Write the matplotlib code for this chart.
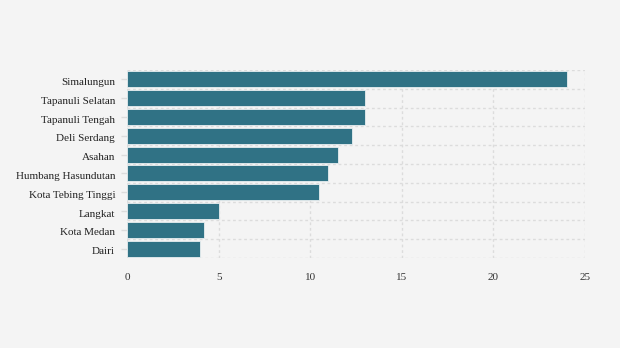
import numpy as np
import matplotlib.pyplot as plt
import matplotlib.transforms as mtransforms
from matplotlib.ticker import FixedLocator

REGIONS = [
    "Simalungun", "Tapanuli Selatan", "Tapanuli Tengah", "Deli Serdang",
    "Asahan", "Humbang Hasundutan", "Kota Tebing Tinggi", "Langkat",
    "Kota Medan", "Dairi",
]
VALUES = [24.0, 13.0, 13.0, 12.3, 11.5, 11.0, 10.5, 5.0, 4.2, 4.0]
X_TICKS = [0, 5, 10, 15, 20, 25]

BG = "#f4f4f4"
BAR = "#307285"
GRID = "#dcdcdc"

plt.rcParams.update({
    "font.family": "Liberation Serif",
    "font.size": 8,
})

fig = plt.figure(figsize=(6.2, 3.48), dpi=100, facecolor=BG)
ax = fig.add_axes([0.2048, 0.2586, 0.7387, 0.5403], facecolor=BG)

y = np.arange(len(REGIONS))
ax.barh(y, VALUES, height=0.86, color=BAR, edgecolor="#e8eef0",
        linewidth=0.6, zorder=2)

ax.set_xlim(0, 25)
ax.set_ylim(len(REGIONS) - 0.5, -0.5)

ax.set_yticks(y)
ax.set_yticklabels(REGIONS, color="#222222")
ax.yaxis.set_minor_locator(FixedLocator(np.arange(-0.5, len(REGIONS), 1.0)))
ax.set_xticks(X_TICKS)
ax.set_xticklabels([str(t) for t in X_TICKS], color="#333333")

ax.tick_params(axis="y", which="major", length=4, color=GRID, width=1, pad=4.5)
ax.tick_params(axis="y", which="minor", length=0)
ax.tick_params(axis="x", length=0, pad=10.5)

# nudge the category labels a touch below the bar centres
shift = mtransforms.ScaledTranslation(0, -1.5 / 72, fig.dpi_scale_trans)
for lbl in ax.get_yticklabels():
    lbl.set_transform(lbl.get_transform() + shift)

ax.grid(axis="x", which="major", color=GRID, linestyle=(0, (2, 2)),
        linewidth=1, zorder=1)
ax.grid(axis="y", which="minor", color=GRID, linestyle=(0, (2, 2)),
        linewidth=1, zorder=1)
ax.grid(axis="y", which="major", visible=False)
ax.set_axisbelow(True)

for spine in ax.spines.values():
    spine.set_visible(False)

fig.savefig("out.png", dpi=100, facecolor=BG)
